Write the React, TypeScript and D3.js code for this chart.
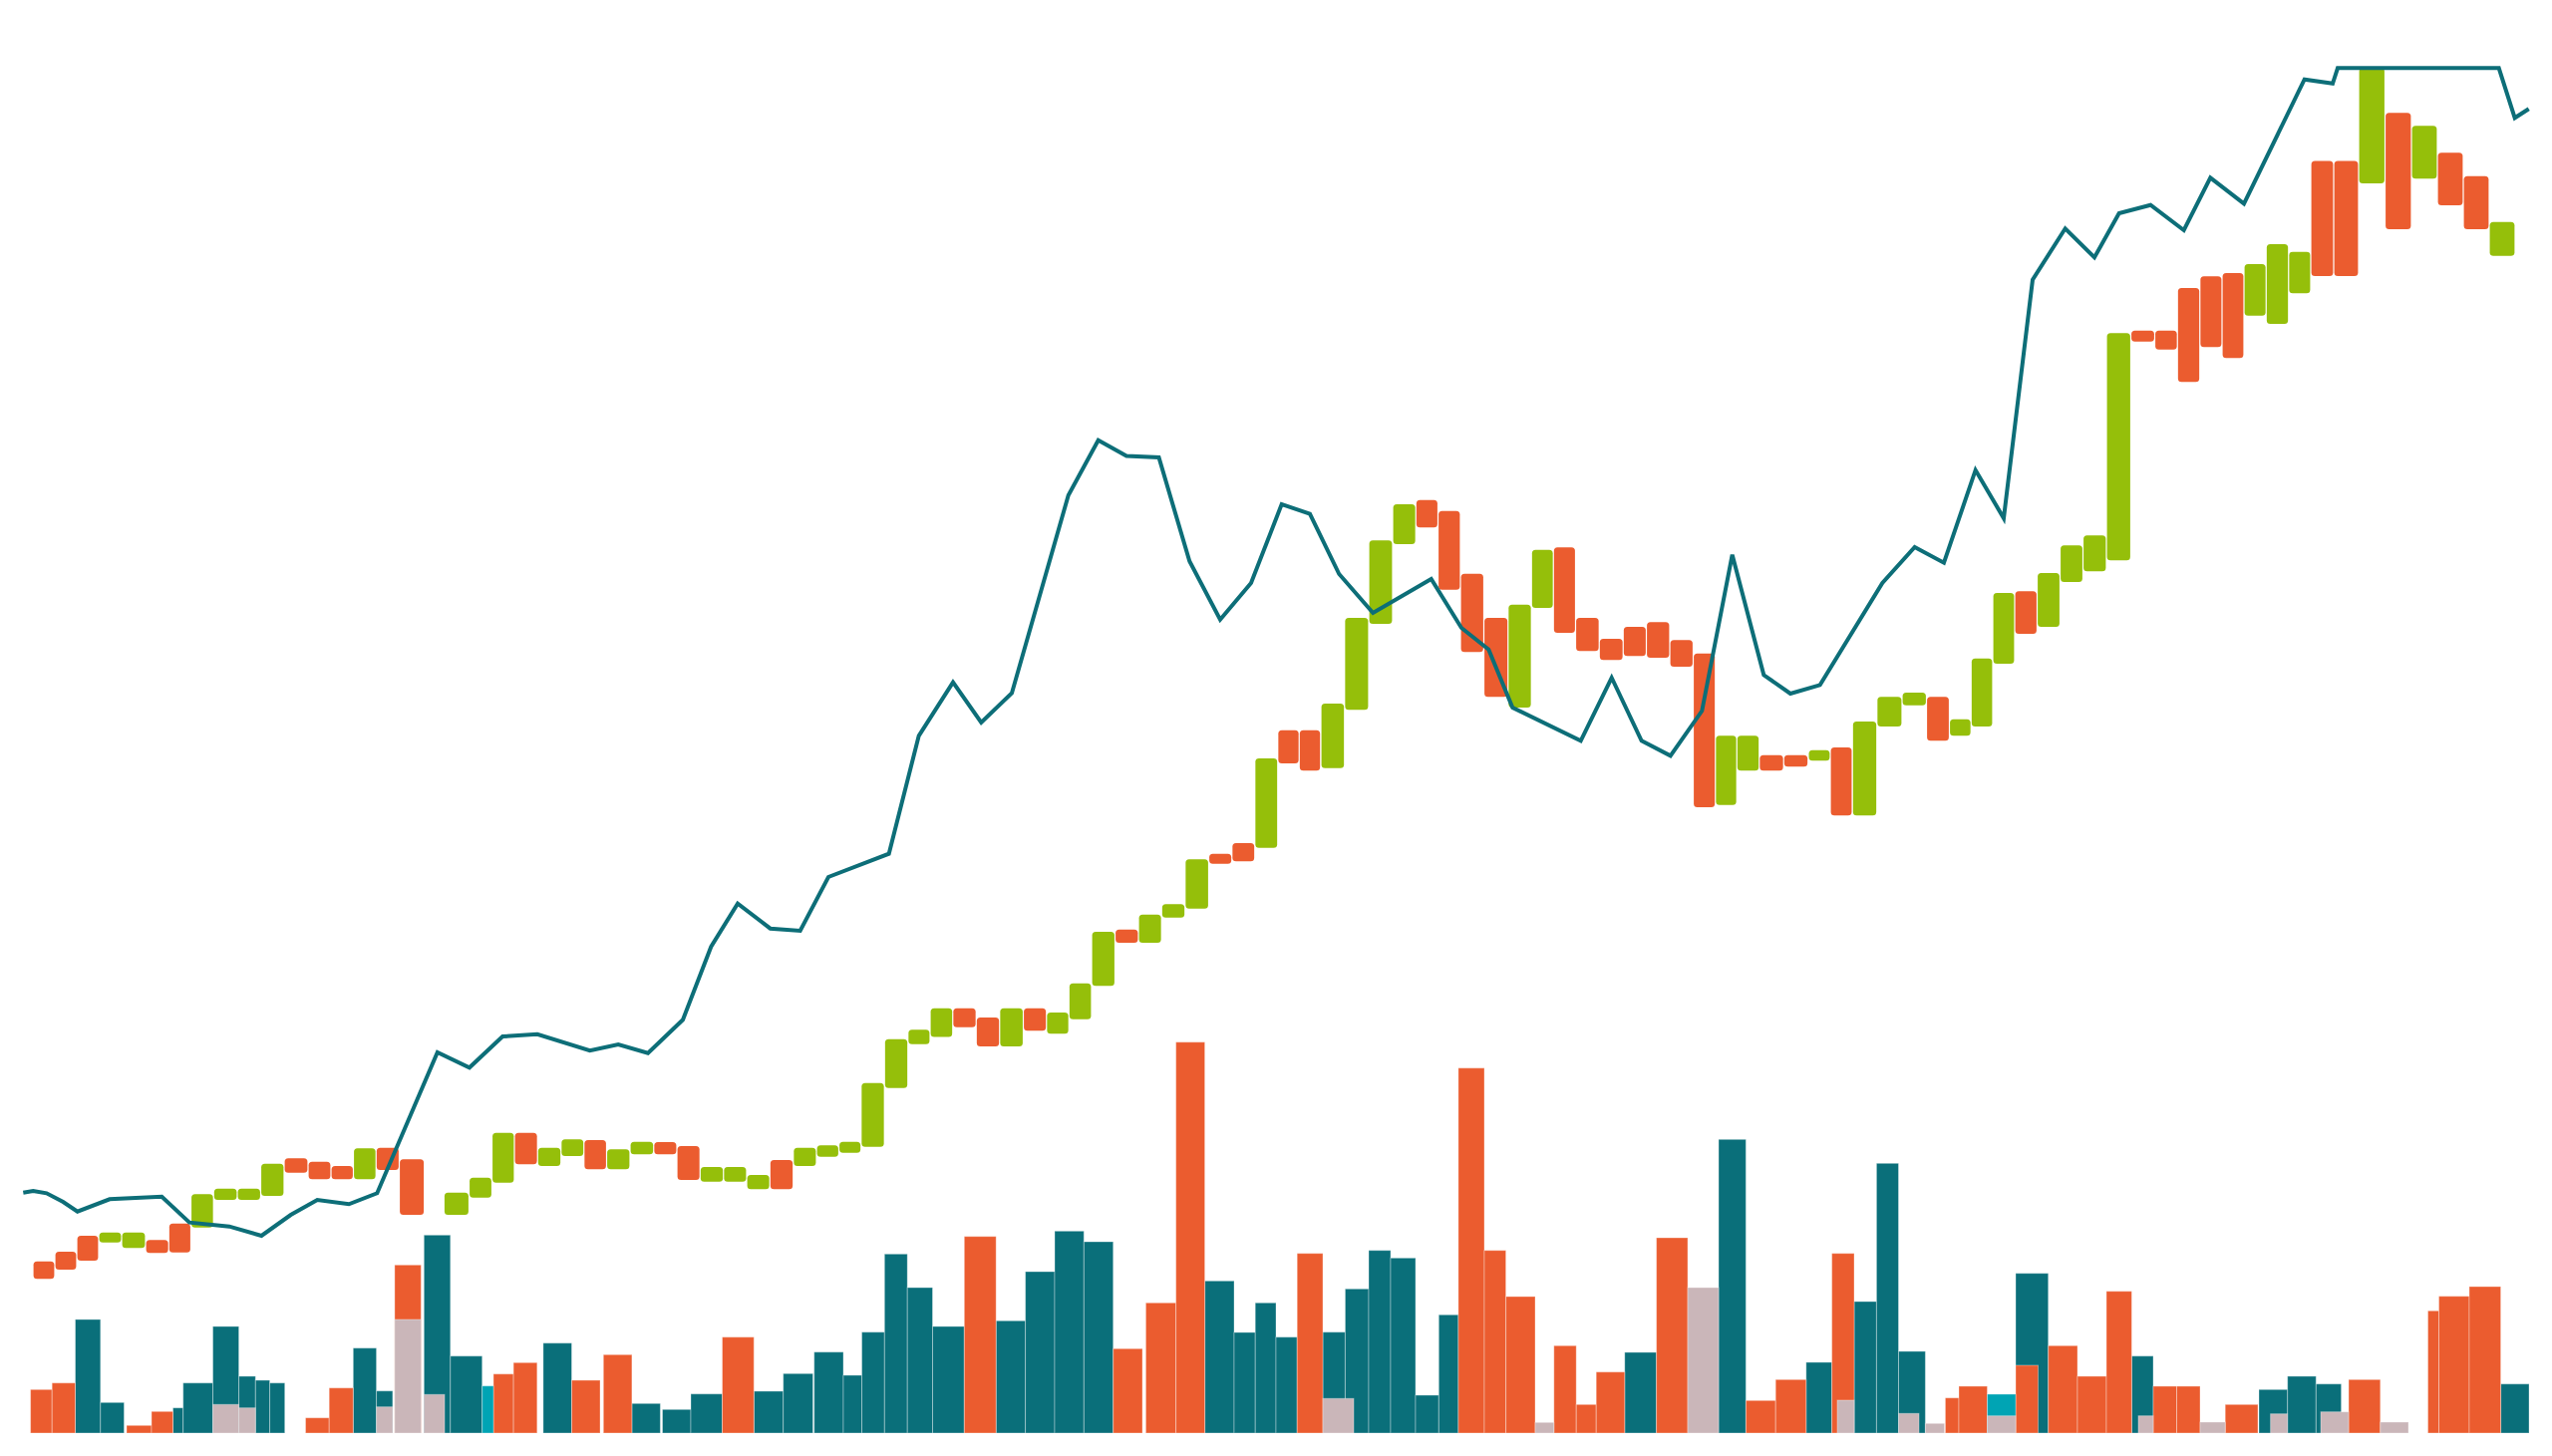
import React, { useEffect, useRef } from "react";
import * as d3 from "d3";

// ---------- Candles (time t, open, close) ----------
const candleT = [4.4, 6.6, 8.8, 11.0, 13.4, 15.8, 18.05, 20.25, 22.6, 25.0, 27.3, 29.7, 32.1, 34.3, 36.6, 38.85, 41.25, 45.85, 48.25, 50.45, 52.75, 55.1, 57.45, 59.7, 62.0, 64.4, 66.75, 69.05, 71.4, 73.75, 76.05, 78.4, 80.75, 83.05, 85.25, 87.5, 89.95, 92.2, 94.4, 96.75, 99.1, 101.45, 103.85, 106.1, 108.35, 110.65, 113.05, 115.35, 117.7, 120.05, 122.45, 124.7, 127.05, 129.3, 131.35, 133.65, 136.1, 138.5, 140.9, 143.15, 145.35, 147.65, 150.05, 152.5, 154.75, 156.9, 159.2, 161.65, 164.0, 166.3, 168.7, 171.0, 173.15, 175.3, 177.65, 180.2, 182.55, 184.65, 187.0, 189.55, 192.05, 194.45, 196.65, 198.8, 201.0, 203.2, 205.5, 207.8, 210.1, 212.5, 215.0, 217.3, 219.55, 221.8, 224.0, 226.2, 228.45, 230.7, 232.9, 235.3, 237.9, 240.6, 243.2, 245.8, 248.4, 251.0];

const candleOpen = [23.43, 24.4, 26.0, 25.33, 24.77, 25.57, 27.23, 26.83, 29.6, 29.6,
  30.0, 33.77, 33.43, 33.0, 31.67, 34.83, 33.67, 28.1, 29.83, 31.33,
  36.33, 33.0, 34.0, 35.6, 32.67, 34.17, 35.4, 35.0, 31.43, 31.43,
  30.67, 33.6, 33.0, 33.93, 34.33, 34.93, 40.83, 45.23, 45.95, 48.83,
  47.9, 45.0, 48.83, 46.27, 47.73, 51.07, 56.73, 55.4, 57.93, 58.83,
  64.33, 65.4, 64.93, 76.73, 76.73, 72.93, 78.77, 87.4, 95.4, 99.83,
  98.73, 92.43, 88.0, 79.0, 89.0, 95.07, 88.0, 85.9, 87.1, 87.57,
  85.77, 84.43, 69.23, 72.67, 74.23, 74.23, 73.67, 75.0, 68.17, 77.1,
  79.23, 80.07, 76.17, 77.1, 83.4, 90.67, 87.1, 91.6, 92.67, 93.77,
  116.83, 116.83, 121.1, 122.27, 122.6, 118.33, 117.5, 120.57, 133.85, 133.85,
  131.6, 138.67, 132.07, 134.67, 132.33, 124.33];

const candleClose = [21.67, 22.6, 23.5, 26.33, 26.33, 24.27, 24.33, 30.17, 30.73, 30.73,
  33.23, 32.33, 31.67, 31.67, 34.77, 32.6, 28.1, 30.33, 31.83, 36.33,
  33.17, 34.83, 35.67, 32.67, 34.67, 35.43, 34.17, 31.6, 32.9, 32.9,
  32.1, 30.67, 34.83, 35.07, 35.43, 41.33, 45.73, 46.67, 48.83, 46.93,
  45.0, 48.83, 46.57, 48.4, 51.33, 56.5, 55.4, 58.23, 59.27, 63.77,
  63.33, 63.57, 73.9, 73.4, 72.67, 79.4, 88.0, 95.77, 99.4, 97.07,
  90.83, 84.57, 80.07, 89.33, 94.83, 86.5, 84.67, 83.77, 84.17, 84.0,
  83.1, 69.0, 76.17, 76.17, 72.67, 73.07, 74.73, 68.17, 77.6, 80.07,
  80.5, 75.67, 77.83, 83.93, 90.5, 86.4, 92.5, 95.27, 96.27, 116.57,
  115.73, 114.93, 111.67, 115.17, 114.07, 123.5, 125.5, 124.73, 122.3, 122.3,
  143.17, 127.0, 137.37, 129.4, 127.0, 127.73];

// ---------- Line series ----------
const lineT = [2.33, 3.33, 4.67, 6.33, 7.77, 11.0, 16.23, 19.0, 23.0, 26.23, 29.17, 31.83, 35.0, 37.83, 43.88, 47.09, 50.42, 53.9, 59.17, 62.02, 65.0, 68.5, 71.33, 74.0, 77.27, 80.27, 83.1, 89.17, 92.17, 95.6, 98.43, 101.5, 107.17, 110.17, 113.0, 116.25, 119.33, 122.4, 125.5, 128.57, 131.4, 134.33, 137.73, 143.57, 146.6, 149.33, 151.73, 158.57, 161.67, 164.67, 167.57, 170.73, 173.77, 176.93, 179.6, 182.57, 188.83, 192.07, 195.0, 198.17, 201.0, 203.9, 207.17, 210.1, 212.57, 215.73, 219.07, 221.73, 225.1, 231.17, 234.0, 234.5, 250.67, 252.27, 253.67];
const lineV = [30.33, 30.5, 30.27, 29.4, 28.43, 29.67, 29.93, 27.33, 26.93, 26.0, 28.1, 29.6, 29.17, 30.27, 44.4, 42.87, 46.0, 46.22, 44.58, 45.2, 44.33, 47.67, 55.0, 59.33, 56.83, 56.6, 62.0, 64.33, 76.17, 81.53, 77.5, 80.45, 100.3, 105.83, 104.25, 104.1, 93.67, 87.83, 91.5, 99.4, 98.43, 92.4, 88.5, 91.9, 87.0, 84.83, 79.0, 75.67, 82.0, 75.67, 74.17, 78.67, 94.33, 82.27, 80.4, 81.27, 91.5, 95.1, 93.53, 102.83, 98.0, 121.93, 127.07, 124.17, 128.6, 129.43, 126.9, 132.17, 129.57, 142.03, 141.62, 143.17, 143.17, 138.17, 139.07];

// ---------- Volume bars [t0, t1, value] ----------
const volTeal = [[7.55,10.08,114],[10.08,12.45,30.7],[17.35,18.37,25.3],[18.37,21.35,50.3],[21.35,23.96,107],[23.96,25.63,57],[25.63,27.06,53],[27.06,28.57,50.3],[35.43,37.76,85.3],[37.76,39.39,42.3],[42.53,45.18,198.7],[45.18,48.37,77.3],[54.49,57.35,90.3],[63.39,66.24,29.7],[66.45,69.3,23.7],[69.3,72.45,39.3],[75.63,78.57,42],[78.57,81.55,59.7],[81.67,84.6,81.3],[84.6,86.45,58],[86.45,88.73,101.3],[88.73,91.02,179.7],[91.02,93.55,146],[93.55,96.73,107],[99.92,102.86,112.7],[102.86,105.8,162],[105.8,108.73,202.7],[108.73,111.67,192],[120.86,123.8,152.7],[123.8,125.92,101],[125.92,128.0,130.7],[128.0,130.12,96.3],[132.7,134.94,101.3],[134.94,137.3,144.7],[137.3,139.5,183.3],[139.5,142.0,175.7],[142.0,144.33,38],[144.33,146.29,118.7],[162.98,166.16,81],[172.4,175.14,294.7],[181.18,183.76,71],[186.0,188.24,132],[188.24,190.45,270.7],[190.45,193.14,82],[202.2,205.47,160.3],[213.84,216.0,77.3],[226.6,229.47,43.7],[229.47,232.33,57],[232.33,234.86,49.3],[250.86,253.7,49.3]];

const volOrange = [[3.06,5.22,43.7],[5.22,7.55,50.3],[12.7,15.2,7.7],[15.2,17.35,21.7],[30.65,33.02,15.3],[33.02,35.43,45.3],[39.59,42.24,168.7],[49.5,51.51,59.3],[51.51,53.88,70.7],[57.35,60.2,53],[60.53,63.39,78.7],[72.45,75.63,96.3],[96.73,99.92,197.3],[111.67,114.6,84.7],[114.94,117.96,130.7],[117.96,120.86,392.3],[130.12,132.7,180.3],[146.29,148.9,366.3],[148.9,151.06,183.3],[151.06,154.0,137],[155.88,158.12,87.7],[158.12,160.12,28.7],[160.12,162.98,61.3],[166.16,169.3,196],[175.14,178.12,32.7],[178.12,181.18,53.7],[183.76,186.0,180.3],[195.14,196.5,35.3],[196.5,199.35,47],[202.2,204.45,68],[205.47,208.4,87.7],[208.4,211.3,57],[211.3,213.84,142.3],[216.0,218.35,47],[218.35,220.7,47],[223.22,226.5,28.7],[235.6,238.78,53.7],[243.55,244.65,122.7],[244.65,247.7,137.3],[247.7,250.86,147]];

const volCyan = [[48.37,49.5,47.3],[199.35,202.2,39]];

const volPink = [[21.35,23.96,28.7],[23.96,25.63,25.3],[37.76,39.39,26.3],[39.59,42.24,114],[42.53,44.6,38.7],[132.7,135.8,34.7],[154.0,155.88,10.7],[169.3,172.4,146],[184.3,186.0,33],[190.45,192.5,19.7],[193.14,195.06,9.7],[199.35,202.2,17.3],[214.5,216.0,17.3],[220.7,223.22,11],[227.76,229.47,19.3],[232.8,235.6,21.3],[238.78,241.6,11]];

const COLORS = {
  up: "#95BF0A",
  down: "#EB5C2F",
  teal: "#0A6F7A",
  line: "#0D6E78",
  pink: "#CAB6B9",
  cyan: "#00A4B4",
};

const W = 2560;
const H = 1461;

export default function App() {
  const ref = useRef<SVGSVGElement | null>(null);

  useEffect(() => {
    const svg = d3.select(ref.current);
    svg.selectAll("*").remove();

    const x = d3.scaleLinear().domain([0, 256]).range([0, W]);
    const yP = d3.scaleLinear().domain([0, 150]).range([1500, 0]);
    const yV = d3.scaleLinear().domain([0, 400]).range([1438, 1038]);

    // volume bars
    const gVol = svg.append("g");
    const drawBars = (data: number[][], color: string) => {
      gVol.append("g")
        .selectAll("rect")
        .data(data)
        .join("rect")
        .attr("x", (d) => x(d[0]))
        .attr("width", (d) => x(d[1]) - x(d[0]))
        .attr("y", (d) => yV(d[2]))
        .attr("height", (d) => yV(0) - yV(d[2]))
        .attr("fill", color)
        .attr("stroke", "#ffffff")
        .attr("stroke-opacity", 0.35)
        .attr("stroke-width", 1);
    };
    drawBars(volTeal, COLORS.teal);
    drawBars(volOrange, COLORS.down);
    drawBars(volCyan, COLORS.cyan);
    drawBars(volPink, COLORS.pink);

    // candles
    const candles = candleT.map((t, i) => {
      const dPrev = i > 0 ? t - candleT[i - 1] : candleT[1] - candleT[0];
      const dNext = i < candleT.length - 1 ? candleT[i + 1] - t : t - candleT[i - 1];
      const left = t - Math.min(dPrev, dNext * 1.1) / 2;
      const right = t + Math.min(dNext, dPrev * 1.1) / 2;
      return { t, left, right, open: candleOpen[i], close: candleClose[i] };
    });

    svg.append("g")
      .selectAll("rect")
      .data(candles)
      .join("rect")
      .attr("x", (d) => x(d.left) + 0.6)
      .attr("width", (d) => x(d.right) - x(d.left) - 1.2)
      .attr("y", (d) => yP(Math.max(d.open, d.close)))
      .attr("height", (d) => Math.abs(yP(d.open) - yP(d.close)))
      .attr("rx", 3.5)
      .attr("ry", 3.5)
      .attr("fill", (d) => (d.close >= d.open ? COLORS.up : COLORS.down));

    // line
    const line = d3.line<number>()
      .x((_, i) => x(lineT[i]))
      .y((d) => yP(d));
    svg.append("path")
      .datum(lineV)
      .attr("d", line)
      .attr("fill", "none")
      .attr("stroke", COLORS.line)
      .attr("stroke-width", 4)
      .attr("stroke-linejoin", "miter")
      .attr("stroke-linecap", "butt");
  }, []);

  return (
    <svg
      ref={ref}
      width={W}
      height={H}
      viewBox={`0 0 ${W} ${H}`}
      style={{ position: "fixed", left: 0, top: 0, background: "#ffffff", display: "block" }}
    />
  );
}
